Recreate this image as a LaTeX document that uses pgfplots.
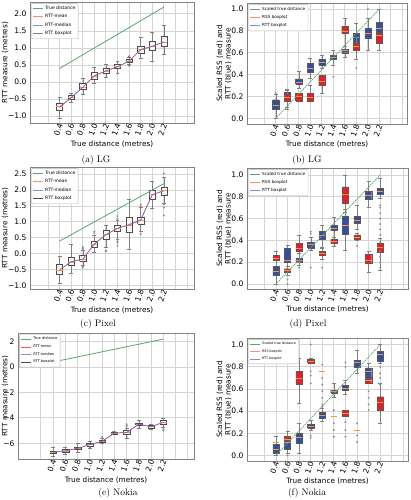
\documentclass[border=0pt]{standalone}
\usepackage{fontspec}
\usepackage{pgfplots}
\pgfplotsset{compat=1.18}
\newfontfamily\dv{DejaVu Sans}
\definecolor{sgreen}{RGB}{85,168,104}
\definecolor{mred}{RGB}{232,90,80}
\definecolor{mblue}{RGB}{90,100,225}
\definecolor{lred}{RGB}{245,140,130}
\definecolor{lblue}{RGB}{130,140,220}
\definecolor{rssred}{RGB}{236,28,36}
\definecolor{rttblue}{RGB}{48,80,168}
\definecolor{framec}{RGB}{130,130,130}
\definecolor{gridc}{RGB}{212,212,212}
\definecolor{medor}{RGB}{255,150,60}

\pgfplotsset{
 base/.style={scale only axis, anchor=south west, axis line style={framec},
  grid=major, major grid style={gridc, line width=0.9pt}, major tick length=0pt,
  unbounded coords=jump,
  /pgf/number format/assume math mode=true,
  ticklabel style={font=\dv\fontsize{7.6}{8}\selectfont},
  label style={font=\dv\fontsize{7.3}{8.5}\selectfont},
  xtick={0,...,12}, xticklabels={,0.4,0.6,0.8,1.0,1.2,1.4,1.6,1.8,2.0,2.2,,},
  xticklabel style={rotate=70, anchor=east, inner sep=0.3pt, yshift=-1pt},
  xlabel={True distance (metres)},
 },
 leg/.style={legend style={at={(axis description cs:0.008,0.99)}, anchor=north west,
   font=\dv\fontsize{#1}{#1}\selectfont, draw=gray!60, rounded corners=1pt, inner sep=0.8pt,
   row sep=-0.6pt, cells={anchor=west}},
   legend image code/.code={\draw[##1] (0pt,0pt) -- (10pt,0pt);}},
 whisk/.style={gray, line width=0.4pt, forget plot},
 lbox/.style={fill=white!93!gray, draw=black!70, line width=0.4pt, forget plot},
 rbox/.style={fill=rssred, draw=black!65, line width=0.4pt, forget plot},
 bbox/.style={fill=rttblue, draw=black!65, line width=0.4pt, forget plot},
 medl/.style={medor, line width=0.6pt, forget plot},
 outl/.style={only marks, mark=o, mark size=0.8pt, mark options={draw=black!55, line width=0.3pt}, forget plot},
 outr/.style={only marks, mark=*, mark size=0.8pt, mark options={draw=gray, fill=gray!60, line width=0.3pt}, forget plot},
 sdist/.style={sgreen, line width=0.7pt, dash pattern=on 1.5pt off 0.7pt, forget plot},
}
% #1 position, #2 lower whisker, #3 lower quartile, #4 median, #5 upper quartile, #6 upper whisker, #7 box style
\newcommand{\bx}[7]{%
 \pgfmathsetmacro\bxL{#1-0.27}\pgfmathsetmacro\bxR{#1+0.27}%
 \pgfmathsetmacro\bcL{#1-0.17}\pgfmathsetmacro\bcR{#1+0.17}%
 \addplot[whisk] coordinates {(#1,#2)(#1,#3) (#1,nan) (#1,#5)(#1,#6) (#1,nan) (\bcL,#2)(\bcR,#2) (#1,nan) (\bcL,#6)(\bcR,#6)};%
 \addplot[#7] coordinates {(\bxL,#3)(\bxR,#3)(\bxR,#5)(\bxL,#5)(\bxL,#3)};%
 \addplot[medl] coordinates {(\bxL,#4)(\bxR,#4)};%
}
\newcommand{\ol}[1]{\addplot[outl] coordinates {#1};}
\newcommand{\orr}[1]{\addplot[outr] coordinates {#1};}

\begin{document}
\begin{tikzpicture}
\path[use as bounding box] (0,0) rectangle (411pt,500pt);

% ---------------- (a) LG
\begin{axis}[base, leg=4.5, at={(30pt,377pt)}, width=164pt, height=121pt,
  xmin=-1.55, xmax=12.6, ymin=-1.2, ymax=2.35,
  ytick={-1,-0.5,0,0.5,1,1.5,2}, yticklabels={−1.0,−0.5,0.0,0.5,1.0,1.5,2.0},
  ylabel={RTT measure (metres)},
  ylabel style={at={(axis description cs:-0.152,0.5)}, anchor=center},
  xlabel style={at={(axis description cs:0.5,-0.174)}, anchor=center}]
\addlegendimage{sgreen, line width=0.9pt}\addlegendentry{True distance}
\addlegendimage{lred, line width=0.9pt}\addlegendentry{RTT-mean}
\addlegendimage{lblue, line width=0.9pt}\addlegendentry{RTT-median}
\addlegendimage{gray, line width=0.9pt}\addlegendentry{RTT boxplot}
\bx{1}{-1.07}{-0.82}{-0.72}{-0.61}{-0.45}{lbox}
\bx{2}{-0.58}{-0.51}{-0.45}{-0.38}{-0.33}{lbox}
\bx{3}{-0.35}{-0.22}{-0.15}{-0.04}{0.10}{lbox}
\bx{4}{-0.04}{0.08}{0.18}{0.30}{0.45}{lbox}
\bx{5}{0.13}{0.27}{0.33}{0.40}{0.52}{lbox}
\bx{6}{0.25}{0.40}{0.45}{0.53}{0.62}{lbox}
\bx{7}{0.52}{0.57}{0.62}{0.67}{0.72}{lbox}
\ol{(7,0.76)(7,0.74)(7,0.50)(7,0.48)}
\bx{8}{0.70}{0.84}{0.95}{1.06}{1.31}{lbox}
\bx{9}{0.62}{0.94}{1.05}{1.19}{1.45}{lbox}
\bx{10}{0.82}{1.04}{1.18}{1.35}{1.68}{lbox}
\addplot[sgreen, line width=0.8pt, forget plot] coordinates {(1,0.4)(10,2.2)};
\addplot[mred, line width=0.6pt, forget plot] coordinates {(1,-0.75)(2,-0.46)(3,-0.15)(4,0.18)(5,0.33)(6,0.45)(7,0.62)(8,0.95)(9,1.05)(10,1.18)};
\addplot[mblue, line width=0.6pt, opacity=0.8, forget plot] coordinates {(1,-0.72)(2,-0.45)(3,-0.15)(4,0.19)(5,0.33)(6,0.45)(7,0.61)(8,0.96)(9,1.05)(10,1.18)};
\end{axis}

% ---------------- (b) LG
\begin{axis}[base, leg=4.2, at={(247pt,376pt)}, width=160pt, height=121pt,
  xmin=-1.5, xmax=12.4, ymin=-0.052, ymax=1.055,
  ytick={0,0.2,0.4,0.6,0.8,1.0}, yticklabels={0.0,0.2,0.4,0.6,0.8,1.0},
  ylabel={Scaled RSS (red) and\\RTT (blue) measure},
  ylabel style={align=center, at={(axis description cs:-0.143,0.5)}, anchor=center},
  xlabel style={at={(axis description cs:0.5,-0.165)}, anchor=center}]
\addlegendimage{sgreen, line width=0.9pt}\addlegendentry{Scaled true distance}
\addlegendimage{lred, line width=0.9pt}\addlegendentry{RSS boxplot}
\addlegendimage{lblue, line width=0.9pt}\addlegendentry{RTT boxplot}
\bx{1}{0.0}{0.08}{0.12}{0.17}{0.22}{bbox}
\orr{(1,0.23)}
\bx{2}{0.10}{0.17}{0.21}{0.24}{0.27}{bbox}
\bx{3}{0.28}{0.31}{0.33}{0.36}{0.43}{bbox}
\bx{4}{0.37}{0.42}{0.46}{0.50}{0.55}{bbox}
\bx{5}{0.46}{0.49}{0.51}{0.54}{0.58}{bbox}
\bx{6}{0.49}{0.54}{0.56}{0.58}{0.62}{bbox}
\orr{(6,0.38)}
\bx{7}{0.56}{0.60}{0.62}{0.63}{0.66}{bbox}
\bx{8}{0.66}{0.70}{0.74}{0.78}{0.87}{bbox}
\bx{9}{0.62}{0.73}{0.78}{0.82}{0.92}{bbox}
\orr{(9,1.0)}
\bx{10}{0.62}{0.79}{0.82}{0.88}{1.0}{bbox}
\bx{2}{0.08}{0.16}{0.19}{0.22}{0.26}{rbox}
\bx{3}{0.16}{0.16}{0.20}{0.23}{0.23}{rbox}
\bx{4}{0.16}{0.16}{0.19}{0.23}{0.30}{rbox}
\bx{5}{0.23}{0.30}{0.34}{0.39}{0.39}{rbox}
\bx{7}{0.66}{0.78}{0.80}{0.84}{0.92}{rbox}
\bx{8}{0.54}{0.62}{0.66}{0.69}{0.74}{rbox}
\orr{(8,0.46)}
\bx{10}{0.62}{0.69}{0.76}{0.78}{0.78}{rbox}
\addplot[sdist] coordinates {(1,0)(10,1)};
\end{axis}

% ---------------- (c) Pixel
\begin{axis}[base, leg=4.5, at={(30pt,211pt)}, width=164pt, height=122pt,
  xmin=-1.55, xmax=12.6, ymin=-1.1, ymax=2.72,
  ytick={-1,-0.5,0,0.5,1,1.5,2,2.5}, yticklabels={−1.0,−0.5,0.0,0.5,1.0,1.5,2.0,2.5},
  ylabel={RTT measure (metres)},
  ylabel style={at={(axis description cs:-0.152,0.5)}, anchor=center},
  xlabel style={at={(axis description cs:0.5,-0.172)}, anchor=center}]
\addlegendimage{sgreen, line width=0.9pt}\addlegendentry{True distance}
\addlegendimage{lred, line width=0.9pt}\addlegendentry{RTT-mean}
\addlegendimage{lblue, line width=0.9pt}\addlegendentry{RTT-median}
\addlegendimage{black!70, line width=0.9pt}\addlegendentry{RTT boxplot}
\bx{1}{-0.93}{-0.65}{-0.50}{-0.33}{-0.06}{lbox}
\bx{2}{-0.62}{-0.36}{-0.25}{-0.10}{0.29}{lbox}
\bx{3}{-0.36}{-0.23}{-0.17}{-0.04}{0.10}{lbox}
\ol{(3,0.22)(3,0.18)(3,0.15)(3,-0.40)(3,-0.43)}
\bx{4}{0.04}{0.22}{0.31}{0.39}{0.60}{lbox}
\ol{(4,0.70)(4,0.65)}
\bx{5}{0.22}{0.45}{0.60}{0.73}{0.91}{lbox}
\ol{(5,0.10)(5,0.08)}
\bx{6}{0.45}{0.70}{0.80}{0.89}{1.05}{lbox}
\ol{(6,1.18)(6,1.10)(6,0.40)(6,0.35)(6,0.25)}
\bx{7}{0.14}{0.68}{0.90}{1.15}{1.72}{lbox}
\bx{8}{0.70}{0.94}{1.05}{1.15}{1.45}{lbox}
\ol{(8,1.55)(8,1.50)(8,0.62)}
\bx{9}{1.43}{1.72}{1.85}{1.98}{2.29}{lbox}
\bx{10}{1.60}{1.85}{1.98}{2.08}{2.40}{lbox}
\ol{(10,2.52)(10,1.55)(10,1.45)(10,1.20)}
\addplot[sgreen, line width=0.8pt, forget plot] coordinates {(1,0.4)(10,2.2)};
\addplot[mred, line width=0.6pt, forget plot] coordinates {(1,-0.50)(2,-0.24)(3,-0.17)(4,0.31)(5,0.60)(6,0.80)(7,0.92)(8,1.07)(9,1.85)(10,1.98)};
\addplot[mblue, line width=0.6pt, opacity=0.8, forget plot] coordinates {(1,-0.50)(2,-0.25)(3,-0.17)(4,0.31)(5,0.60)(6,0.80)(7,0.90)(8,1.05)(9,1.85)(10,1.98)};
\end{axis}

% ---------------- (d) Pixel
\begin{axis}[base, leg=4.2, at={(247pt,211pt)}, width=161pt, height=121pt,
  xmin=-1.5, xmax=12.4, ymin=-0.046, ymax=1.064,
  ytick={0,0.2,0.4,0.6,0.8,1.0}, yticklabels={0.0,0.2,0.4,0.6,0.8,1.0},
  ylabel={Scaled RSS (red) and\\RTT (blue) measure},
  ylabel style={align=center, at={(axis description cs:-0.143,0.5)}, anchor=center},
  xlabel style={at={(axis description cs:0.5,-0.165)}, anchor=center}]
\addlegendimage{sgreen, line width=0.9pt}\addlegendentry{Scaled true distance}
\addlegendimage{lred, line width=0.9pt}\addlegendentry{RSS boxplot}
\addlegendimage{lblue, line width=0.9pt}\addlegendentry{RTT boxplot}
\bx{1}{0.0}{0.08}{0.12}{0.16}{0.24}{bbox}
\bx{2}{0.08}{0.20}{0.22}{0.33}{0.36}{bbox}
\orr{(2,0.04)(2,0.0)}
\bx{3}{0.17}{0.20}{0.22}{0.24}{0.28}{bbox}
\orr{(3,0.15)}
\bx{4}{0.31}{0.33}{0.36}{0.38}{0.43}{bbox}
\orr{(4,0.48)(4,0.46)(4,0.15)}
\bx{5}{0.34}{0.41}{0.45}{0.48}{0.54}{bbox}
\bx{6}{0.43}{0.49}{0.51}{0.54}{0.61}{bbox}
\bx{7}{0.31}{0.46}{0.54}{0.62}{0.69}{bbox}
\bx{8}{0.50}{0.56}{0.58}{0.62}{0.72}{bbox}
\bx{9}{0.70}{0.78}{0.81}{0.85}{0.94}{bbox}
\bx{10}{0.79}{0.82}{0.85}{0.88}{0.97}{bbox}
\orr{(10,0.72)(10,0.70)(10,0.65)(10,0.60)(10,0.55)(10,0.50)(10,0.45)(10,0.38)(10,0.30)(10,0.25)(10,0.20)(10,0.15)}
\bx{1}{0.22}{0.22}{0.24}{0.26}{0.30}{rbox}
\bx{2}{0.11}{0.11}{0.13}{0.14}{0.16}{rbox}
\bx{3}{0.20}{0.30}{0.33}{0.37}{0.45}{rbox}
\bx{5}{0.23}{0.26}{0.28}{0.30}{0.33}{rbox}
\orr{(5,0.15)}
\bx{6}{0.35}{0.37}{0.39}{0.41}{0.43}{rbox}
\bx{7}{0.66}{0.74}{0.82}{0.89}{1.0}{rbox}
\bx{8}{0.40}{0.41}{0.43}{0.45}{0.47}{rbox}
\orr{(8,0.35)}
\bx{9}{0.11}{0.19}{0.22}{0.27}{0.30}{rbox}
\bx{10}{0.13}{0.29}{0.34}{0.37}{0.42}{rbox}
\addplot[sdist] coordinates {(1,0)(10,1)};
\end{axis}

% ---------------- (e) Nokia
\begin{axis}[base, leg=3.6, at={(18pt,41pt)}, width=176pt, height=126pt,
  xmin=-1.87, xmax=12.5, ymin=-7.24, ymax=2.68,
  ytick={-6,-4,-2,0,2}, yticklabels={−6,−4,−2,0,2},
  ylabel={RTT measure (metres)},
  ylabel style={at={(axis description cs:-0.074,0.5)}, anchor=center},
  xlabel style={at={(axis description cs:0.5,-0.172)}, anchor=center}]
\addlegendimage{sgreen, line width=0.9pt}\addlegendentry{True distance}
\addlegendimage{mred, line width=0.9pt}\addlegendentry{RTT-mean}
\addlegendimage{lblue, line width=0.9pt}\addlegendentry{RTT-median}
\addlegendimage{black!70, line width=0.9pt}\addlegendentry{RTT boxplot}
\bx{1}{-7.0}{-6.8}{-6.7}{-6.6}{-6.3}{lbox}
\bx{2}{-6.9}{-6.7}{-6.6}{-6.5}{-6.3}{lbox}
\bx{3}{-6.7}{-6.5}{-6.4}{-6.3}{-6.0}{lbox}
\bx{4}{-6.4}{-6.2}{-6.1}{-6.0}{-5.8}{lbox}
\ol{(4,-6.3)(4,-6.35)}
\bx{5}{-6.0}{-5.95}{-5.85}{-5.75}{-5.6}{lbox}
\ol{(5,-5.5)}
\bx{6}{-5.3}{-5.25}{-5.2}{-5.1}{-5.05}{lbox}
\bx{7}{-5.6}{-5.3}{-5.15}{-5.0}{-4.8}{lbox}
\ol{(7,-4.5)(7,-4.6)(7,-4.7)(7,-5.5)(7,-5.6)}
\bx{8}{-4.8}{-4.6}{-4.5}{-4.4}{-4.2}{lbox}
\bx{9}{-4.9}{-4.8}{-4.7}{-4.6}{-4.5}{lbox}
\bx{10}{-4.7}{-4.5}{-4.35}{-4.2}{-4.0}{lbox}
\ol{(10,-4.9)(10,-5.0)}
\addplot[sgreen, line width=0.8pt, forget plot] coordinates {(1,0.4)(10,2.2)};
\addplot[mred, line width=0.6pt, forget plot] coordinates {(1,-6.7)(2,-6.6)(3,-6.4)(4,-6.1)(5,-5.85)(6,-5.2)(7,-5.15)(8,-4.5)(9,-4.7)(10,-4.35)};
\addplot[mblue, line width=0.6pt, opacity=0.8, forget plot] coordinates {(1,-6.7)(2,-6.6)(3,-6.4)(4,-6.1)(5,-5.85)(6,-5.2)(7,-5.15)(8,-4.5)(9,-4.7)(10,-4.35)};
\end{axis}

% ---------------- (f) Nokia
\begin{axis}[base, leg=3.3, at={(247pt,39pt)}, width=161pt, height=123pt,
  xmin=-1.5, xmax=12.4, ymin=-0.05, ymax=1.06,
  ytick={0,0.2,0.4,0.6,0.8,1.0}, yticklabels={0.0,0.2,0.4,0.6,0.8,1.0},
  ylabel={Scaled RSS (red) and\\RTT (blue) measure},
  ylabel style={align=center, at={(axis description cs:-0.143,0.5)}, anchor=center},
  xlabel style={at={(axis description cs:0.5,-0.163)}, anchor=center}]
\addlegendimage{sgreen, line width=0.9pt}\addlegendentry{Scaled true distance}
\addlegendimage{lred, line width=0.9pt}\addlegendentry{RSS boxplot}
\addlegendimage{lblue, line width=0.9pt}\addlegendentry{RTT boxplot}
\bx{1}{0.0}{0.02}{0.06}{0.10}{0.17}{bbox}
\bx{2}{0.02}{0.06}{0.12}{0.15}{0.22}{bbox}
\orr{(2,0.0)}
\bx{3}{0.02}{0.11}{0.16}{0.20}{0.29}{bbox}
\bx{4}{0.23}{0.25}{0.26}{0.28}{0.32}{bbox}
\orr{(4,0.18)(4,0.16)}
\bx{5}{0.31}{0.34}{0.36}{0.39}{0.43}{bbox}
\bx{6}{0.53}{0.56}{0.58}{0.59}{0.65}{bbox}
\bx{7}{0.55}{0.59}{0.61}{0.63}{0.68}{bbox}
\bx{8}{0.74}{0.80}{0.84}{0.86}{0.95}{bbox}
\bx{9}{0.67}{0.71}{0.76}{0.79}{0.83}{bbox}
\bx{10}{0.83}{0.85}{0.91}{0.94}{1.0}{bbox}
\orr{(10,0.80)(10,0.74)(10,0.70)(10,0.64)}
\addplot[medl] coordinates {(0.73,0.12)(1.27,0.12)};
\bx{2}{0.14}{0.14}{0.15}{0.17}{0.17}{rbox}
\bx{3}{0.47}{0.64}{0.70}{0.76}{0.88}{rbox}
\bx{4}{0.83}{0.83}{0.85}{0.87}{0.88}{rbox}
\orr{(4,1.0)(4,0.76)(4,0.72)(4,0.65)}
\addplot[medl] coordinates {(4.73,0.76)(5.27,0.76)};
\orr{(5,0.82)(5,0.70)(5,0.64)(5,0.58)(5,0.52)(5,0.46)(5,0.44)}
\addplot[medl] coordinates {(5.73,0.35)(6.27,0.35)};
\orr{(6,0.41)(6,0.29)(6,0.23)(6,0.17)}
\bx{7}{0.35}{0.35}{0.38}{0.41}{0.41}{rbox}
\orr{(7,0.84)(7,0.80)(7,0.30)(7,0.23)(7,0.17)}
\addplot[medl] coordinates {(7.73,0.23)(8.27,0.23)};
\orr{(8,0.29)(8,0.18)(8,0.12)}
\bx{9}{0.65}{0.65}{0.68}{0.70}{0.70}{rbox}
\orr{(9,0.58)(9,0.52)(9,0.46)(9,0.41)}
\bx{10}{0.29}{0.41}{0.48}{0.53}{0.65}{rbox}
\addplot[sdist] coordinates {(1,0)(10,1)};
\end{axis}

% captions
\begin{scope}[every node/.style={font=\fontsize{9.5}{11}\selectfont}]
\node at (96pt,340pt) {(a) LG};
\node at (307pt,340pt) {(b) LG};
\node at (98pt,176pt) {(c) Pixel};
\node at (308pt,176pt) {(d) Pixel};
\node at (118pt,7pt) {(e) Nokia};
\node at (307pt,7pt) {(f) Nokia};
\end{scope}
\end{tikzpicture}
\end{document}
